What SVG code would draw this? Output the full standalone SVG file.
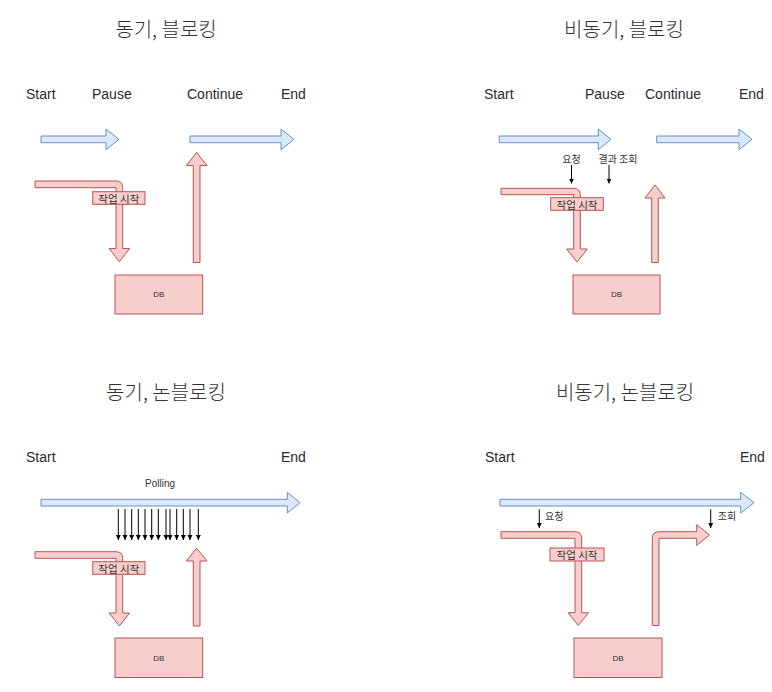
<svg xmlns="http://www.w3.org/2000/svg" width="772" height="692" viewBox="0 0 772 692">
<defs>
<style>
.title{font-family:"Noto Sans CJK KR","Noto Sans",sans-serif;font-size:20px;font-weight:300;fill:#333;text-anchor:middle;dominant-baseline:central}
.lbl{font-family:"Liberation Sans",Arial,sans-serif;font-size:14px;fill:#2b2b2b}
.small{font-family:"Noto Sans CJK KR","Liberation Sans",sans-serif;font-size:10px;fill:#333;dominant-baseline:central}
.mid{text-anchor:middle}
.blue{fill:#dae8fc;stroke:#6c8ebf;stroke-width:1}
.red{fill:#f8cecc;stroke:#b85450;stroke-width:1}
.db{font-family:"Liberation Sans",Arial,sans-serif;font-size:8px;fill:#333;text-anchor:middle;dominant-baseline:central}
.tag{font-family:"Noto Sans CJK KR","Liberation Sans",sans-serif;font-size:10.5px;fill:#333;text-anchor:middle;dominant-baseline:central}
.thin{stroke:#000;stroke-width:1;fill:none;marker-end:url(#tri)}
</style>
<marker id="tri" markerWidth="6" markerHeight="6" refX="5" refY="3" orient="auto" markerUnits="userSpaceOnUse">
<path d="M0,0.5 L5,3 L0,5.5 Z" fill="#000"/>
</marker>
</defs>
<rect width="772" height="692" fill="#fff"/>

<g id="titles">
<text class="title" x="166" y="28">동기, 블로킹</text>
<text class="title" x="624" y="28">비동기, 블로킹</text>
<text class="title" x="166" y="391.5">동기, 논블로킹</text>
<text class="title" x="625" y="391.5">비동기, 논블로킹</text>
</g>

<g id="phase-labels">
<text class="lbl" x="26" y="99.3">Start</text>
<text class="lbl" x="92" y="99.3">Pause</text>
<text class="lbl" x="187" y="99.3">Continue</text>
<text class="lbl" x="281" y="99.3">End</text>
<text class="lbl" x="484" y="99.3">Start</text>
<text class="lbl" x="585" y="99.3">Pause</text>
<text class="lbl" x="645" y="99.3">Continue</text>
<text class="lbl" x="739" y="99.3">End</text>
<text class="lbl" x="26" y="461.7">Start</text>
<text class="lbl" x="281" y="461.7">End</text>
<text class="lbl" x="485" y="461.7">Start</text>
<text class="lbl" x="740" y="461.7">End</text>
</g>

<g id="connectors">
<polygon class="blue" points="41,136 106,136 106,129 119,139.35 106,149.7 106,142.7 41,142.7"/>
<polygon class="blue" points="190,136 281,136 281,129 294,139.35 281,149.7 281,142.7 190,142.7"/>
<path class="red" d="M35,181 H116 Q122.7,181 122.7,187.7 V248.5 H129.6 L119.35,261.7 L109.1,248.5 H116 V187.7 H35 Z"/>
<polygon class="red" points="193.3,262.5 193.3,165.5 186.3,165.5 196.65,152.5 207,165.5 200,165.5 200,262.5"/>
<polygon class="blue" points="499.3,136 598.3,136 598.3,129 611,139.35 598.3,149.7 598.3,142.7 499.3,142.7"/>
<polygon class="blue" points="656.7,136 739,136 739,129 752,139.35 739,149.7 739,142.7 656.7,142.7"/>
<path class="red" d="M501,188.3 H573.7 Q580.3,188.3 580.3,195 V249 H587.3 L577,262 L566.7,249 H573.7 V194.7 H501 Z"/>
<polygon class="red" points="651.7,262.5 651.7,198 645,198 655,185 665,198 658.3,198 658.3,262.5"/>
<line class="thin" x1="571.5" y1="165" x2="571.5" y2="183.5"/>
<line class="thin" x1="609" y1="165" x2="609" y2="183.5"/>
<polygon class="blue" points="41,499.3 287.3,499.3 287.3,492.3 300,502.7 287.3,513 287.3,506 41,506"/>
<line class="thin" x1="118.3" y1="509" x2="118.3" y2="540"/>
<line class="thin" x1="125" y1="509" x2="125" y2="540"/>
<line class="thin" x1="131.7" y1="509" x2="131.7" y2="540"/>
<line class="thin" x1="138.3" y1="509" x2="138.3" y2="540"/>
<line class="thin" x1="145" y1="509" x2="145" y2="540"/>
<line class="thin" x1="151.7" y1="509" x2="151.7" y2="540"/>
<line class="thin" x1="158.3" y1="509" x2="158.3" y2="540"/>
<line class="thin" x1="166" y1="509" x2="166" y2="540"/>
<line class="thin" x1="170" y1="509" x2="170" y2="540"/>
<line class="thin" x1="176.7" y1="509" x2="176.7" y2="540"/>
<line class="thin" x1="183.3" y1="509" x2="183.3" y2="540"/>
<line class="thin" x1="190" y1="509" x2="190" y2="540"/>
<line class="thin" x1="198.3" y1="509" x2="198.3" y2="540"/>
<path class="red" d="M35,551.7 H116 Q122.7,551.7 122.7,558.4 V613 H129.6 L119.35,626 L109.1,613 H116 V558.3 H35 Z"/>
<polygon class="red" points="193.3,626 193.3,561 186.3,561 196.65,548.3 207,561 200,561 200,626"/>
<polygon class="blue" points="500,499.3 740.7,499.3 740.7,492.3 754,502.7 740.7,513 740.7,506 500,506"/>
<line class="thin" x1="539.3" y1="509.3" x2="539.3" y2="528"/>
<line class="thin" x1="710.7" y1="509.3" x2="710.7" y2="528"/>
<path class="red" d="M501,531.7 H575 Q581.7,531.7 581.7,538.4 V612.7 H588.6 L578.35,625.5 L568.1,612.7 H575 V538.3 H501 Z"/>
<path class="red" d="M652.3,625.5 V538.4 Q652.3,531.7 659,531.7 H696.7 V524.7 L709.5,535 L696.7,545.3 V538.3 H659 V625.5 Z"/>
</g>

<g id="small-labels">
<text class="small mid" x="571.5" y="158.5">요청</text>
<text class="small mid" x="618" y="158.5">결과 조회</text>
<text class="small mid" x="160" y="483.5" style="font-family:'Liberation Sans',Arial,sans-serif">Polling</text>
<text class="small" x="545" y="515">요청</text>
<text class="small" x="717.7" y="515">조회</text>
</g>

<g id="tag-tl"><rect class="red" x="92.7" y="191.7" width="52.3" height="12.6"/><text class="tag" x="118.85" y="198">작업 시작</text></g>
<g id="tag-tr"><rect class="red" x="550.7" y="197.7" width="52.6" height="12.6"/><text class="tag" x="577" y="204">작업 시작</text></g>
<g id="tag-bl"><rect class="red" x="92.7" y="561.7" width="52.3" height="12.6"/><text class="tag" x="118.85" y="568">작업 시작</text></g>
<g id="tag-br"><rect class="red" x="550" y="548" width="54" height="13"/><text class="tag" x="577" y="554.5">작업 시작</text></g>

<g id="db-tl"><rect class="red" x="115" y="275" width="87.7" height="39"/><text class="db" x="158.85" y="294.5">DB</text></g>
<g id="db-tr"><rect class="red" x="573" y="275" width="87" height="39"/><text class="db" x="616.5" y="294.5">DB</text></g>
<g id="db-bl"><rect class="red" x="115" y="638" width="87.7" height="39.5"/><text class="db" x="158.85" y="658">DB</text></g>
<g id="db-br"><rect class="red" x="574" y="638" width="88" height="39.5"/><text class="db" x="618" y="658">DB</text></g>
</svg>
